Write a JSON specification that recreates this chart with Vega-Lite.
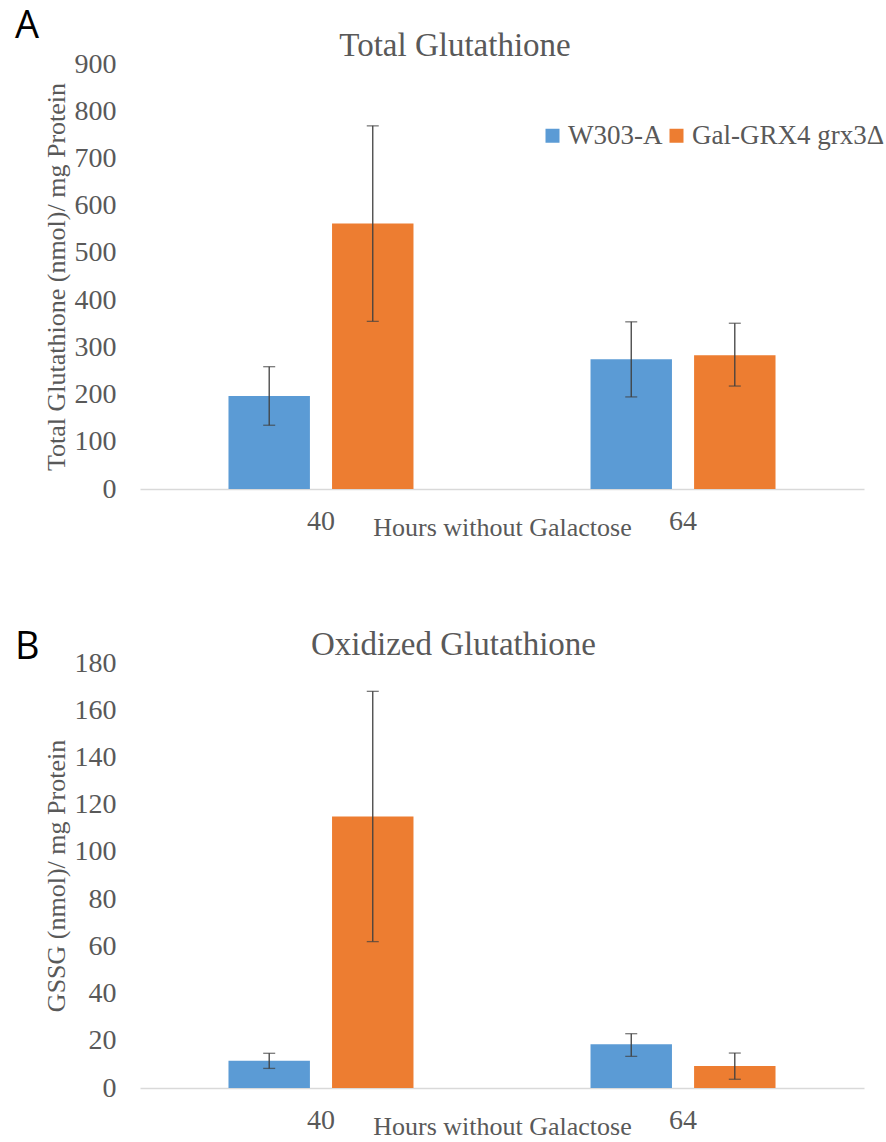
{
  "$schema": "https://vega.github.io/schema/vega-lite/v6.json",
  "padding": {"left": 15, "top": 8, "right": 0, "bottom": 0},
  "background": "white",
  "config": {
    "view": {"stroke": null},
    "font": "Liberation Serif",
    "axis": {
      "labelFont": "Liberation Serif",
      "titleFont": "Liberation Serif",
      "labelColor": "#595959",
      "titleColor": "#595959",
      "labelFontSize": 28,
      "titleFontSize": 26,
      "titleFontWeight": "normal",
      "grid": false,
      "ticks": false
    },
    "axisX": {"domainColor": "#D9D9D9", "domainWidth": 1.5, "labelAngle": 0, "labelPadding": 18, "titlePadding": -21},
    "axisY": {"domain": false, "labelPadding": 24, "titlePadding": 5},
    "legend": {
      "labelFont": "Liberation Serif",
      "labelFontSize": 27,
      "labelColor": "#595959",
      "labelLimit": 400,
      "symbolType": "square",
      "symbolSize": 196,
      "symbolStrokeWidth": 0,
      "labelOffset": 2,
      "columnPadding": 0
    },
    "title": {"font": "Liberation Serif", "fontSize": 33, "fontWeight": "normal", "color": "#595959"},
    "concat": {"spacing": 89}
  },
  "datasets": {
    "total": [
      {"hours": "40", "strain": "W303-A", "mean": 197, "lo": 135, "hi": 259},
      {"hours": "40", "strain": "Gal-GRX4 grx3Δ", "mean": 562, "lo": 355, "hi": 769},
      {"hours": "64", "strain": "W303-A", "mean": 275, "lo": 195, "hi": 354},
      {"hours": "64", "strain": "Gal-GRX4 grx3Δ", "mean": 283, "lo": 218, "hi": 351}
    ],
    "gssg": [
      {"hours": "40", "strain": "W303-A", "mean": 11.5, "lo": 8.3, "hi": 14.7},
      {"hours": "40", "strain": "Gal-GRX4 grx3Δ", "mean": 115, "lo": 62, "hi": 168},
      {"hours": "64", "strain": "W303-A", "mean": 18.5, "lo": 13.4, "hi": 23},
      {"hours": "64", "strain": "Gal-GRX4 grx3Δ", "mean": 9.3, "lo": 3.7, "hi": 14.8}
    ]
  },
  "resolve": {"scale": {"color": "independent"}, "legend": {"color": "independent"}},
  "vconcat": [
    {
      "title": {"text": "A", "anchor": "start", "frame": "bounds", "font": "Open Sans", "fontSize": 38, "fontWeight": "normal", "color": "#000000", "dx": -28, "offset": -16},
      "resolve": {"scale": {"color": "independent"}, "legend": {"color": "independent"}},
      "vconcat": [
        {
          "width": 724,
          "height": 425,
          "title": {"text": "Total Glutathione", "offset": -13, "anchor": "middle", "frame": "bounds", "dx": -9},
          "data": {"name": "total"},
          "encoding": {
            "x": {"field": "hours", "type": "nominal", "title": "Hours without Galactose", "scale": {"paddingInner": 0.489, "paddingOuter": 0.2444}},
            "xOffset": {"field": "strain", "type": "nominal", "sort": ["W303-A", "Gal-GRX4 grx3Δ"], "scale": {"paddingInner": 0.2136, "paddingOuter": 0}}
          },
          "layer": [
            {
              "mark": {"type": "bar"},
              "encoding": {
                "y": {"field": "mean", "type": "quantitative", "title": "Total Glutathione (nmol)/ mg Protein", "scale": {"domain": [0, 900]}, "axis": {"values": [0, 100, 200, 300, 400, 500, 600, 700, 800, 900]}},
                "color": {"field": "strain", "type": "nominal", "scale": {"domain": ["W303-A", "Gal-GRX4 grx3Δ"], "range": ["#5B9BD5", "#ED7D31"]}, "legend": {"title": null, "orient": "none", "direction": "horizontal", "legendX": 399, "legendY": 58}}
              }
            },
            {
              "mark": {"type": "rule", "color": "#404040", "strokeWidth": 1.3},
              "encoding": {"y": {"field": "lo", "type": "quantitative", "title": "Total Glutathione (nmol)/ mg Protein"}, "y2": {"field": "hi"}}
            },
            {
              "mark": {"type": "tick", "color": "#404040", "thickness": 1.3, "size": 12},
              "encoding": {"y": {"field": "lo", "type": "quantitative", "title": "Total Glutathione (nmol)/ mg Protein"}}
            },
            {
              "mark": {"type": "tick", "color": "#404040", "thickness": 1.3, "size": 12},
              "encoding": {"y": {"field": "hi", "type": "quantitative", "title": "Total Glutathione (nmol)/ mg Protein"}}
            }
          ]
        }
      ]
    },
    {
      "title": {"text": "B", "anchor": "start", "frame": "bounds", "font": "Open Sans", "fontSize": 38, "fontWeight": "normal", "color": "#000000", "dx": -28, "offset": -38},
      "resolve": {"scale": {"color": "independent"}, "legend": {"color": "independent"}},
      "vconcat": [
        {
          "width": 724,
          "height": 425,
          "title": {"text": "Oxidized Glutathione", "offset": -13, "anchor": "middle", "frame": "bounds"},
          "data": {"name": "gssg"},
          "encoding": {
            "x": {"field": "hours", "type": "nominal", "title": "Hours without Galactose", "scale": {"paddingInner": 0.489, "paddingOuter": 0.2444}},
            "xOffset": {"field": "strain", "type": "nominal", "sort": ["W303-A", "Gal-GRX4 grx3Δ"], "scale": {"paddingInner": 0.2136, "paddingOuter": 0}}
          },
          "layer": [
            {
              "mark": {"type": "bar"},
              "encoding": {
                "y": {"field": "mean", "type": "quantitative", "title": "GSSG (nmol)/ mg Protein", "scale": {"domain": [0, 180]}, "axis": {"values": [0, 20, 40, 60, 80, 100, 120, 140, 160, 180]}},
                "color": {"field": "strain", "type": "nominal", "scale": {"domain": ["W303-A", "Gal-GRX4 grx3Δ"], "range": ["#5B9BD5", "#ED7D31"]}, "legend": null}
              }
            },
            {
              "mark": {"type": "rule", "color": "#404040", "strokeWidth": 1.3},
              "encoding": {"y": {"field": "lo", "type": "quantitative", "title": "GSSG (nmol)/ mg Protein"}, "y2": {"field": "hi"}}
            },
            {
              "mark": {"type": "tick", "color": "#404040", "thickness": 1.3, "size": 12},
              "encoding": {"y": {"field": "lo", "type": "quantitative", "title": "GSSG (nmol)/ mg Protein"}}
            },
            {
              "mark": {"type": "tick", "color": "#404040", "thickness": 1.3, "size": 12},
              "encoding": {"y": {"field": "hi", "type": "quantitative", "title": "GSSG (nmol)/ mg Protein"}}
            }
          ]
        }
      ]
    }
  ]
}
